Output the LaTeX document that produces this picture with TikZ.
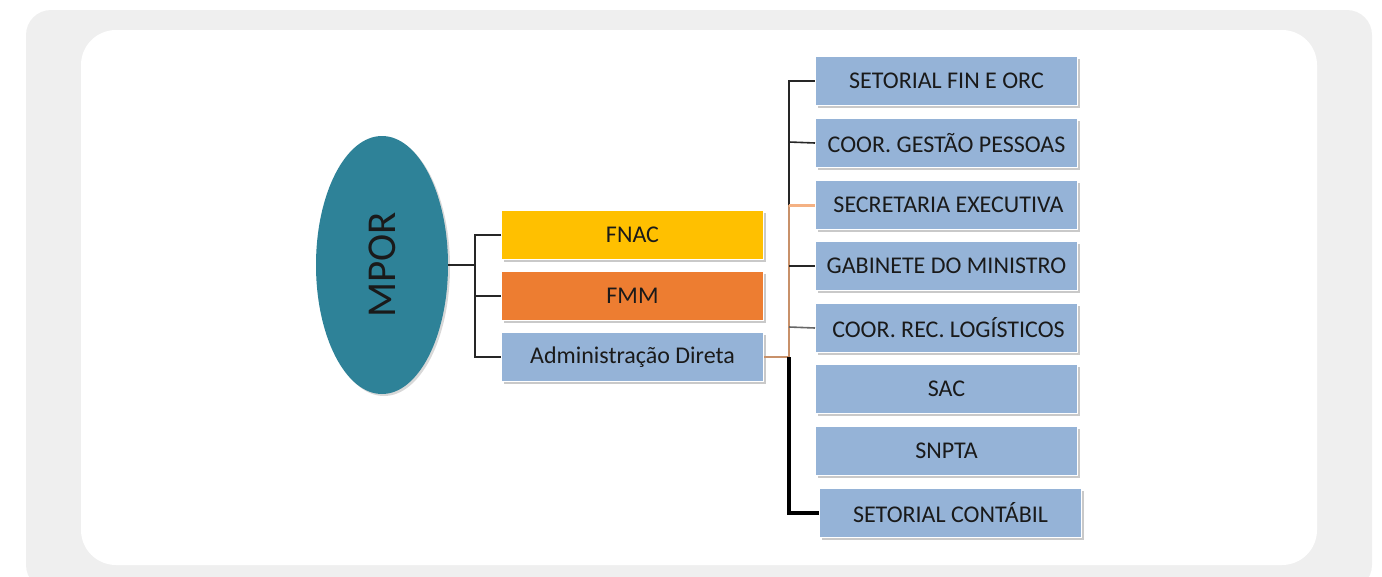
\documentclass[tikz,border=0pt]{standalone}
\usepackage{fontspec}
\setmainfont{Carlito}
\usetikzlibrary{shadows,shapes.geometric}
\definecolor{outerg}{HTML}{EFEFEF}
\definecolor{boxblue}{HTML}{95B3D7}
\definecolor{fnacc}{HTML}{FFC000}
\definecolor{fmmc}{HTML}{ED7D31}
\definecolor{tealc}{HTML}{2E8298}
\definecolor{peach}{HTML}{F4B183}
\definecolor{tan}{HTML}{C8916A}
\definecolor{txt}{HTML}{1A1A1A}
\tikzset{
  x=1pt, y=-1pt,
  orgbox/.style={draw=white, line width=1pt, fill=boxblue, minimum width=262pt, minimum height=49pt, inner sep=0pt,
    font=\fontsize{24}{24}\selectfont, text=txt, anchor=north west,
    drop shadow={opacity=0.35, shadow xshift=2pt, shadow yshift=-2pt, fill=black!60}},
  conn/.style={draw=black!85, line width=1.6pt},
}
\begin{document}
\begin{tikzpicture}
\useasboundingbox (0,0) rectangle (1382,576);
\fill[outerg, rounded corners=25pt] (26,10) rectangle (1372,590);
\fill[white, rounded corners=35pt] (81,30) rectangle (1317,565);
% ellipse
\node[ellipse, fill=tealc, minimum width=132pt, minimum height=258pt, inner sep=0pt,
  drop shadow={opacity=0.3, shadow xshift=2pt, shadow yshift=-2pt}] (mpor) at (382,265) {};
\node[rotate=90, font=\fontsize{41}{41}\selectfont, text=txt] (mport) at (mpor.center) {MPOR};
% left boxes
\node[orgbox, fill=fnacc] (fnac) at (501,210) {FNAC};
\node[orgbox, fill=fmmc] (fmm) at (501,271) {FMM};
\node[orgbox] (adm) at (501,332) {Administração Direta};
% right boxes
\node[orgbox] (b1) at (815,56) {SETORIAL FIN E ORC};
\node[orgbox] (b2) at (815,118) {COOR. GESTÃO PESSOAS};
\node[orgbox] (b3) at (815,180) {\hspace{4pt}SECRETARIA EXECUTIVA};
\node[orgbox] (b4) at (815,241) {GABINETE DO MINISTRO};
\node[orgbox] (b5) at (815,303) {\hspace{4pt}COOR. REC. LOGÍSTICOS};
\node[orgbox] (b6) at (815,364) {SAC};
\node[orgbox] (b7) at (815,426) {SNPTA};
\node[orgbox] (b8) at (819,488) {SETORIAL CONTÁBIL};
% connectors left
\coordinate (jl) at (475,265);
\draw[conn] (mpor.east) -- (jl);
\draw[conn] (fnac.west) -| (jl) |- (adm.west);
\draw[conn] (jl |- fmm.west) -- (fmm.west);
% connectors right
\coordinate (jr) at (789,357);
\draw[tan, line width=1.6pt] (adm.east) -- (jr);
\draw[tan, line width=1.6pt] (jr) -- (789,205);
\draw[conn] (789,205) |- (b1.west);
\draw[conn] (789,142) -- (b2.west);
\draw[peach, line width=3pt] (789,205) -- (b3.west);
\draw[conn] (789,266) -- (b4.west);
\draw[draw=black!60, line width=1.6pt] (789,327) -- (b5.west);
\draw[black, line width=3.5pt] (jr) |- (b8.west);
\end{tikzpicture}
\end{document}
